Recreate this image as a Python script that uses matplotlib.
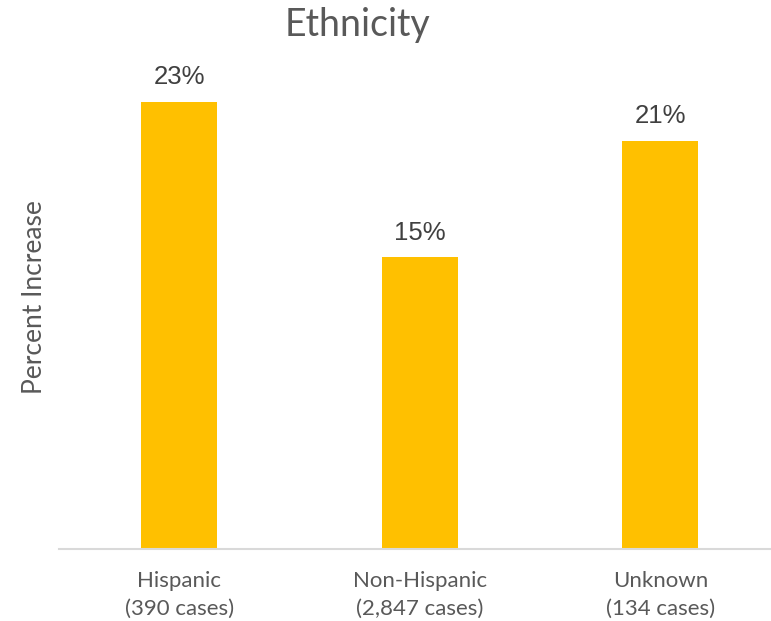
import matplotlib
matplotlib.use("Agg")
import matplotlib.pyplot as plt

categories = ["Hispanic\n(390 cases)", "Non-Hispanic\n(2,847 cases)", "Unknown\n(134 cases)"]
pct_increase = [23, 15, 21]

W, H = 771, 621
fig = plt.figure(figsize=(W / 100, H / 100), dpi=100)
# axes box in pixels: left, bottom, width, height
left, base, top, right = 59, 549, 63, 771
ax = fig.add_axes([left / W, (H - base) / H, (right - left) / W, (base - top) / H])

x = list(range(len(categories)))
bars = ax.bar(x, pct_increase, width=0.316, color="#FFC000", zorder=2)

for xi, v in zip(x, pct_increase):
    ax.annotate(f"{v}%", (xi, v), xytext=(0, 9), textcoords="offset points",
                ha="center", va="bottom", fontsize=18.5, color="#404040",
                family="Liberation Sans")

ax.set_xlim(-0.5, 2.46)
ax.set_ylim(0, 25)
ax.set_yticks([])
ax.set_xticks(x)
ax.set_xticklabels(categories, fontsize=16, color="#595959", family="Lato",
                   linespacing=1.45)
ax.tick_params(axis="x", length=0, pad=16)

for s in ["top", "right", "left"]:
    ax.spines[s].set_visible(False)
ax.spines["bottom"].set_color("#D9D9D9")
ax.spines["bottom"].set_linewidth(1.5)

ax.set_ylabel("Percent Increase", fontsize=19, color="#595959", family="Lato")
ax.yaxis.set_label_coords(-12 / (right - left), (base - 297) / (base - top))
fig.text(358 / W, 1 - 25 / H, "Ethnicity", ha="center", va="center",
         fontsize=27, color="#595959", family="Lato")

fig.savefig("out.png", dpi=100)
